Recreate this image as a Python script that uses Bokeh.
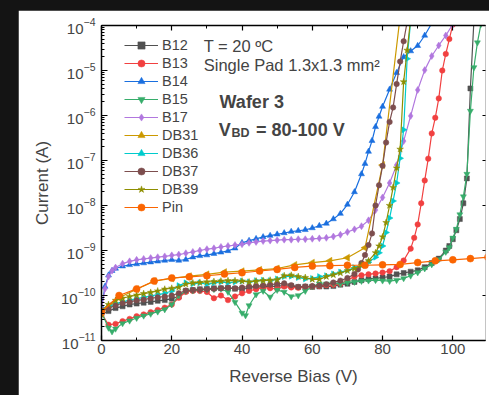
from bokeh.plotting import figure
from bokeh.models import (Legend, LegendItem, Label, LinearAxis, LogAxis,
                          SingleIntervalTicker, LogTicker, Range1d, CustomJSTickFormatter)
from bokeh.embed import file_html
from bokeh.resources import INLINE
from math import pi

FONT = "Liberation Sans"

# Reverse bias sweeps (V) and measured leakage current (A) per device
b12_v = [*range(0, 99, 2), 99, 100, 101, 102, 103, 104, 105, 106]
b12_i = [3.8e-11, 4.5e-11, 5.25e-11, 5.75e-11, 6.3e-11, 6.6e-11, 6.9e-11, 7.2e-11, 7.6e-11, 7.9e-11,
         8.5e-11, 9.5e-11, 1.26e-10, 1.32e-10, 1.38e-10, 1.41e-10, 1.45e-10, 1.45e-10, 1.48e-10, 1.41e-10,
         1.38e-10, 1.45e-10, 1.51e-10, 1.58e-10, 1.58e-10, 1.62e-10, 1.66e-10, 1.62e-10, 1.55e-10, 1.58e-10,
         1.55e-10, 1.58e-10, 1.58e-10, 1.62e-10, 1.74e-10, 1.82e-10,
         2.0e-10, 2.19e-10, 2.34e-10, 2.4e-10, 2.51e-10, 2.63e-10, 2.95e-10, 3.16e-10, 3.39e-10, 3.63e-10,
         4.27e-10, 5.25e-10, 6.6e-10, 1.0e-9,
         1.26e-9, 1.78e-9, 2.82e-9, 5.0e-9, 1.12e-8, 4.0e-8, 4.0e-6, 1.26e-4]

b13_v = [*range(0, 87, 2), *range(88, 101)]
b13_i = [4.0e-11, 2.24e-11, 2.34e-11, 2.69e-11, 3.02e-11, 3.47e-11, 3.8e-11, 4.27e-11, 4.79e-11, 5.37e-11,
         6.31e-11, 8.91e-11, 1.2e-10, 1.26e-10, 1.26e-10, 1.2e-10, 8.7e-11, 1.0e-10, 7.9e-11, 9.5e-11,
         1.12e-10, 1.26e-10, 1.38e-10, 1.51e-10, 1.45e-10, 1.41e-10, 1.58e-10, 1.51e-10, 1.48e-10, 1.55e-10,
         1.58e-10, 1.62e-10, 1.7e-10, 1.74e-10, 1.82e-10, 2.19e-10, 2.63e-10, 2.82e-10, 2.95e-10, 3.09e-10,
         3.24e-10, 3.47e-10, 4.27e-10, 6.0e-10,
         1.1e-9, 1.91e-9, 3.8e-9, 1.12e-8, 3.6e-8, 1.1e-7, 4.0e-7, 8.9e-7, 2.4e-6, 1.0e-5,
         2.34e-5, 5.0e-5, 1.05e-4]

b14_v = [0, 1, 2, 3, 4, *range(6, 73, 2), 74, 75, 76, 77, 78, 79, 80, 82, 84, 86, 88, 90, 92, 94]
b14_i = [5.6e-11, 1.58e-10, 2.82e-10, 3.55e-10, 3.98e-10,
         4.47e-10, 4.79e-10, 5.0e-10, 5.25e-10, 5.5e-10, 5.75e-10, 6.0e-10, 6.2e-10, 6.0e-10, 6.3e-10,
         7.1e-10, 7.6e-10, 7.9e-10, 8.5e-10, 9.1e-10, 9.8e-10, 1.12e-9, 1.48e-9, 1.66e-9, 1.82e-9,
         2.0e-9, 2.14e-9, 2.29e-9, 2.45e-9, 2.63e-9, 2.75e-9, 2.88e-9, 3.16e-9, 3.55e-9, 3.98e-9,
         5.0e-9, 6.6e-9, 1.05e-8, 2.0e-8,
         5.0e-8, 8.5e-8, 1.58e-7, 2.75e-7, 5.6e-7, 9.5e-7, 1.58e-6, 3.8e-6, 8.9e-6, 2.0e-5,
         2.7e-5, 3.55e-5, 6.0e-5, 1.12e-4]

b15_v = [0, 2, 3, 4, *range(6, 41, 2), 41, *range(42, 99, 2), *range(99, 109)]
b15_i = [4.17e-11, 1.91e-11, 1.58e-11, 1.82e-11,
         2.4e-11, 2.75e-11, 3.16e-11, 3.55e-11, 3.9e-11, 4.37e-11, 4.9e-11, 6.3e-11, 1.0e-10, 1.26e-10,
         1.29e-10, 1.32e-10, 1.35e-10, 1.38e-10, 1.41e-10, 1.2e-10, 7.1e-11, 4.1e-11,
         3.6e-11,
         6.0e-11, 1.05e-10, 1.26e-10, 9.3e-11, 1.32e-10, 1.2e-10, 9.5e-11, 1.0e-10, 1.26e-10, 1.58e-10,
         1.82e-10, 1.82e-10, 1.86e-10, 1.82e-10, 1.95e-10, 2.0e-10, 2.09e-10, 2.14e-10, 2.19e-10, 2.14e-10,
         2.09e-10, 2.19e-10, 2.4e-10, 2.75e-10, 3.24e-10, 3.98e-10, 4.9e-10, 6.3e-10, 9.3e-10,
         1.17e-9, 1.91e-9, 3.0e-9, 6.3e-9, 1.58e-8, 5.0e-8, 1.26e-6, 1.17e-5, 4.17e-5, 1.07e-4]

b17_v = [0, 1, 2, 3, 4, *range(6, 101, 2)]
b17_i = [5.0e-11, 1.41e-10, 2.63e-10, 3.55e-10, 4.17e-10,
         5.1e-10, 5.75e-10, 6.2e-10, 6.5e-10, 6.8e-10, 7.1e-10, 7.4e-10, 7.8e-10, 8.1e-10, 8.7e-10,
         9.3e-10, 1.0e-9, 1.07e-9, 1.12e-9, 1.2e-9, 1.26e-9, 1.32e-9, 1.38e-9, 1.48e-9, 1.55e-9,
         1.62e-9, 1.66e-9, 1.7e-9, 1.74e-9, 1.74e-9, 1.78e-9, 1.78e-9, 1.82e-9, 1.86e-9, 1.91e-9,
         2.04e-9, 2.24e-9, 2.57e-9, 2.95e-9, 3.47e-9, 4.68e-9, 7.9e-9, 1.51e-8, 3.16e-8, 7.9e-8,
         2.7e-7, 9.8e-7, 3.7e-6, 1.02e-5, 2.1e-5, 3.6e-5, 6.0e-5, 1.07e-4]

db31_v = [*range(0, 86, 5)]
db31_i = [4.0e-11, 8.9e-11, 1.38e-10, 2.09e-10, 2.4e-10, 2.69e-10, 2.95e-10, 3.31e-10, 3.47e-10,
          3.72e-10, 3.98e-10, 4.79e-10, 5.37e-10, 5.9e-10, 6.9e-10, 1.15e-9, 7.9e-8, 1.58e-4]

db36_v = [*range(0, 79, 2), *range(79, 89)]
db36_i = [4.5e-11, 5.6e-11, 6.6e-11, 7.2e-11, 7.9e-11, 8.5e-11, 9.1e-11, 9.8e-11, 1.05e-10, 1.12e-10,
          1.26e-10, 1.66e-10, 1.91e-10, 1.82e-10, 1.91e-10, 1.78e-10, 1.91e-10, 2.0e-10, 1.91e-10, 2.0e-10,
          2.09e-10, 2.0e-10, 2.14e-10, 2.19e-10, 2.14e-10, 2.34e-10, 2.63e-10, 2.69e-10, 2.51e-10, 2.34e-10,
          2.4e-10, 2.63e-10, 2.75e-10, 3.02e-10, 3.31e-10, 3.63e-10, 4.17e-10, 4.68e-10, 5.5e-10, 7.1e-10,
          8.9e-10, 1.26e-9, 2.51e-9, 5.25e-9, 1.26e-8, 3.16e-8, 1.12e-7, 4.8e-7, 1.82e-5, 1.26e-4]

db37_v = [*range(0, 73, 2), *range(73, 88)]
db37_i = [4.5e-11, 5.25e-11, 6.0e-11, 6.8e-11, 7.2e-11, 7.8e-11, 8.1e-11, 8.7e-11, 9.1e-11, 9.5e-11,
          1.0e-10, 1.12e-10, 1.29e-10, 1.32e-10, 1.35e-10, 1.38e-10, 1.41e-10, 1.45e-10, 1.48e-10, 1.45e-10,
          1.51e-10, 1.58e-10, 1.62e-10, 1.66e-10, 1.74e-10, 1.82e-10, 1.86e-10, 1.7e-10, 1.55e-10, 1.58e-10,
          1.62e-10, 1.66e-10, 1.78e-10, 1.95e-10, 2.14e-10, 2.45e-10, 3.02e-10,
          3.8e-10, 5.25e-10, 7.9e-10, 1.32e-9, 2.4e-9, 1.0e-8, 2.82e-8, 7.6e-8, 2.51e-7, 7.2e-7,
          1.51e-6, 5.0e-6, 1.58e-5, 4.47e-5, 1.2e-4]

db39_v = [*range(0, 79, 2), *range(79, 89)]
db39_i = [4.68e-11, 6.3e-11, 7.8e-11, 8.7e-11, 9.5e-11, 1.02e-10, 1.1e-10, 1.17e-10, 1.26e-10, 1.38e-10,
          1.45e-10, 1.51e-10, 1.78e-10, 1.91e-10, 1.95e-10, 2.0e-10, 2.04e-10, 2.09e-10, 2.14e-10, 2.14e-10,
          2.09e-10, 2.0e-10, 2.09e-10, 2.14e-10, 2.19e-10, 2.24e-10, 2.75e-10, 2.82e-10, 2.63e-10, 2.51e-10,
          2.29e-10, 2.29e-10, 2.63e-10, 2.88e-10, 3.16e-10, 3.55e-10, 3.98e-10, 4.68e-10, 5.9e-10, 8.9e-10,
          1.26e-9, 2.0e-9, 4.17e-9, 1.0e-8, 2.51e-8, 6.8e-8, 1.78e-7, 5.6e-6, 2.82e-5, 1.41e-4]

pin_v = [*range(0, 111, 5)]
pin_i = [4.3e-11, 1.0e-10, 1.4e-10, 2.1e-10, 2.45e-10, 2.6e-10, 2.75e-10, 3.0e-10, 3.2e-10, 3.5e-10,
         3.8e-10, 4.2e-10, 4.5e-10, 4.6e-10, 4.7e-10, 4.7e-10, 4.8e-10, 4.9e-10, 5.4e-10, 5.9e-10,
         6.2e-10, 6.6e-10, 7.1e-10]

# name, bias, current, colour, marker, marker angle, marker size
series = [
    ("B12", b12_v, b12_i, "#515151", "square", 0.0, 5),
    ("B13", b13_v, b13_i, "#F14040", "circle", 0.0, 5.5),
    ("B14", b14_v, b14_i, "#1A6FDF", "triangle", 0.0, 6),
    ("B15", b15_v, b15_i, "#37AD6B", "inverted_triangle", 0.0, 6),
    ("B17", b17_v, b17_i, "#B177DE", "diamond", 0.0, 7),
    ("DB31", db31_v, db31_i, "#CC9900", "triangle", pi / 2, 7),
    ("DB36", db36_v, db36_i, "#00CBCC", "triangle", -pi / 2, 6),
    ("DB37", db37_v, db37_i, "#7D4E4E", "circle", 0.0, 5.5),
    ("DB39", db39_v, db39_i, "#8E8E00", "star", 0.0, 7),
    ("Pin", pin_v, pin_i, "#FB6501", "circle", 0.0, 7),
]

p = figure(width=471, height=385, x_range=Range1d(0, 109.3), y_range=Range1d(1e-11, 1e-4),
           y_axis_type="log", output_backend="svg", toolbar_location=None,
           min_border_left=83, min_border_right=0, min_border_top=15, min_border_bottom=55,
           background_fill_color="white", border_fill_color="white")
p.margin = (10, 0, 0, 18)
p.outline_line_color = None
p.grid.visible = False

items = []
for name, v, cur, color, marker, ang, sz in series:
    ln = p.line(v, cur, line_color=color, line_width=1.2)
    pts = p.scatter(v, cur, marker=marker, angle=ang, size=sz,
                    fill_color=color, line_color=color, line_width=0.5)
    items.append(LegendItem(label=name, renderers=[ln, pts]))

legend = Legend(items=items, location=(23, 124), label_text_font=FONT,
                label_text_font_size="14.5px", glyph_width=34, glyph_height=18,
                label_height=18, label_standoff=4, spacing=0, padding=0, margin=0,
                border_line_color=None, background_fill_alpha=0)
p.add_layout(legend)

# bottom axis
xa = p.xaxis[0]
xa.ticker = SingleIntervalTicker(interval=20, num_minor_ticks=2)
xa.axis_label = "Reverse Bias (V)"
xa.axis_label_text_font = FONT
xa.axis_label_text_font_size = "17px"
xa.axis_label_text_font_style = "normal"
xa.axis_label_standoff = 10
xa.major_label_text_font = FONT
xa.major_label_text_font_size = "15px"
xa.major_label_standoff = 3
xa.major_tick_in = 5
xa.major_tick_out = 0
xa.minor_tick_in = 3
xa.minor_tick_out = 0
xa.axis_line_width = 1.5
xa.major_tick_line_width = 1.2

# left axis
ya = p.yaxis[0]
ya.ticker = LogTicker(num_minor_ticks=10)
ya.axis_label = "Current (A)"
ya.axis_label_text_font = FONT
ya.axis_label_text_font_size = "17px"
ya.axis_label_text_font_style = "normal"
ya.axis_label_standoff = 6
ya.major_label_text_font = FONT
ya.major_label_text_font_size = "15px"
ya.major_label_standoff = 6
ya.major_tick_in = 6
ya.major_tick_out = 0
ya.minor_tick_in = 3
ya.minor_tick_out = 0
ya.axis_line_width = 1.5
ya.major_tick_line_width = 1.2

# mirrored tick-only axes on top and right (labels blank and not painted)
blank = CustomJSTickFormatter(code="return ''")
top = LinearAxis(ticker=SingleIntervalTicker(interval=20, num_minor_ticks=2), formatter=blank,
                 major_label_text_font_size="2px", major_label_text_color=None,
                 major_label_standoff=0,
                 major_tick_in=5, major_tick_out=0, minor_tick_in=3, minor_tick_out=0,
                 axis_line_width=1.5, major_tick_line_width=1.2)
p.add_layout(top, "above")
right = LogAxis(ticker=LogTicker(), formatter=blank,
                major_label_text_font_size="2px", major_label_text_color=None,
                major_label_standoff=0,
                major_tick_in=3, major_tick_out=0, minor_tick_line_color=None,
                axis_line_color=None, major_tick_line_width=1.2)
p.add_layout(right, "right")

# annotations
for txt, x, y, size, style in [
    ("T = 20 ºC", 29.1, 3.5e-5, "16.5px", "normal"),
    ("Single Pad 1.3x1.3 mm²", 29.1, 1.34e-5, "16.5px", "normal"),
    ("Wafer 3", 33.6, 2.0e-6, "18px", "bold"),
    ("V", 33.4, 4.65e-7, "18px", "bold"),
    ("= 80-100 V", 44.0, 4.65e-7, "18px", "bold"),
]:
    p.add_layout(Label(x=x, y=y, text=txt, text_font=FONT, text_font_size=size,
                       text_font_style=style, text_baseline="alphabetic"))
p.add_layout(Label(x=37.0, y=4.0e-7, text="BD", text_font=FONT, text_font_size="12.5px",
                   text_font_style="bold", text_baseline="alphabetic"))

html = file_html(p, INLINE, title="IV curves")
html = html.replace("</head>", "<style>html,body{margin:0;padding:0;background:#141414;}</style></head>", 1)
open("out.html", "w").write(html)
